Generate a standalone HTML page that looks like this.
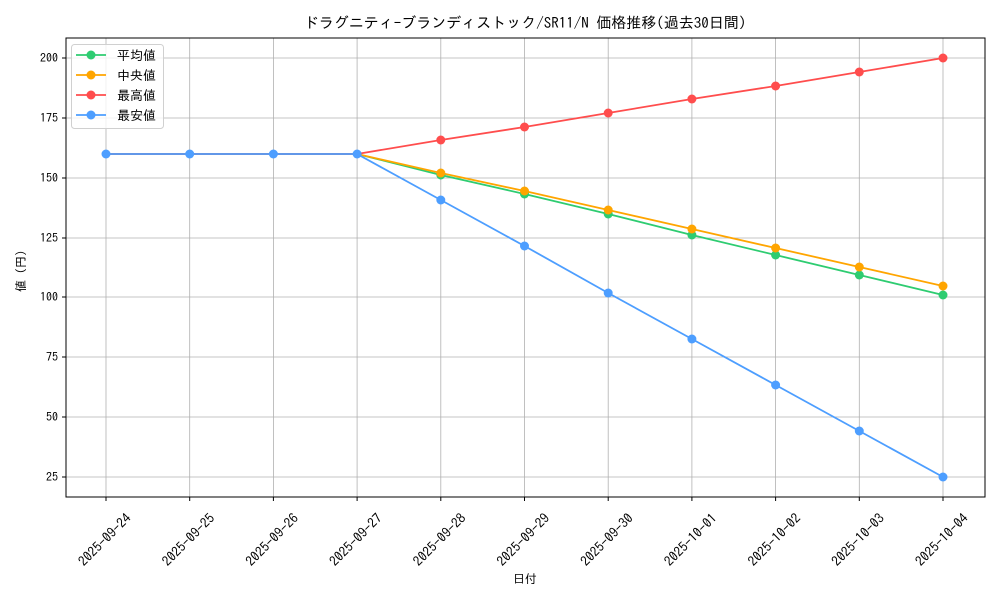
<!DOCTYPE html>
<html><head><meta charset="utf-8"><style>
body{margin:0;background:#fff}
text{font-family:"IPAGothic","Liberation Sans","Noto Sans CJK JP",sans-serif;fill:#000}
</style></head><body>
<svg width="1000" height="600" xmlns="http://www.w3.org/2000/svg">
<rect width="1000" height="600" fill="#fff"/>
<g stroke="#b0b0b0" stroke-width="0.8">
<line x1="106" y1="38" x2="106" y2="497"/><line x1="189.7" y1="38" x2="189.7" y2="497"/><line x1="273.4" y1="38" x2="273.4" y2="497"/><line x1="357.1" y1="38" x2="357.1" y2="497"/><line x1="440.8" y1="38" x2="440.8" y2="497"/><line x1="524.5" y1="38" x2="524.5" y2="497"/><line x1="608.2" y1="38" x2="608.2" y2="497"/><line x1="691.9" y1="38" x2="691.9" y2="497"/><line x1="775.6" y1="38" x2="775.6" y2="497"/><line x1="859.3" y1="38" x2="859.3" y2="497"/><line x1="943" y1="38" x2="943" y2="497"/>
<line x1="66" y1="58" x2="985" y2="58"/><line x1="66" y1="118" x2="985" y2="118"/><line x1="66" y1="178" x2="985" y2="178"/><line x1="66" y1="238" x2="985" y2="238"/><line x1="66" y1="297" x2="985" y2="297"/><line x1="66" y1="357" x2="985" y2="357"/><line x1="66" y1="417" x2="985" y2="417"/><line x1="66" y1="477" x2="985" y2="477"/>
</g>
<rect x="66" y="38" width="919" height="459" fill="none" stroke="#000" stroke-width="1"/>
<g stroke="#000"><line x1="62" y1="58" x2="66" y2="58"/><line x1="62" y1="118" x2="66" y2="118"/><line x1="62" y1="178" x2="66" y2="178"/><line x1="62" y1="238" x2="66" y2="238"/><line x1="62" y1="297" x2="66" y2="297"/><line x1="62" y1="357" x2="66" y2="357"/><line x1="62" y1="417" x2="66" y2="417"/><line x1="62" y1="477" x2="66" y2="477"/>
<line x1="106" y1="497" x2="106" y2="501"/><line x1="189.7" y1="497" x2="189.7" y2="501"/><line x1="273.4" y1="497" x2="273.4" y2="501"/><line x1="357.1" y1="497" x2="357.1" y2="501"/><line x1="440.8" y1="497" x2="440.8" y2="501"/><line x1="524.5" y1="497" x2="524.5" y2="501"/><line x1="608.2" y1="497" x2="608.2" y2="501"/><line x1="691.9" y1="497" x2="691.9" y2="501"/><line x1="775.6" y1="497" x2="775.6" y2="501"/><line x1="859.3" y1="497" x2="859.3" y2="501"/><line x1="943" y1="497" x2="943" y2="501"/></g>
<g font-size="12" text-anchor="end">
<text x="58" y="62">200</text><text x="58" y="122">175</text><text x="58" y="182">150</text><text x="58" y="242">125</text><text x="58" y="301">100</text><text x="58" y="361">75</text><text x="58" y="421">50</text><text x="58" y="481">25</text>
</g>
<g font-size="13.5" text-anchor="middle">
<text transform="translate(108,543) rotate(-45)">2025-09-24</text>
<text transform="translate(191.7,543) rotate(-45)">2025-09-25</text>
<text transform="translate(275.4,543) rotate(-45)">2025-09-26</text>
<text transform="translate(359.1,543) rotate(-45)">2025-09-27</text>
<text transform="translate(442.8,543) rotate(-45)">2025-09-28</text>
<text transform="translate(526.5,543) rotate(-45)">2025-09-29</text>
<text transform="translate(610.2,543) rotate(-45)">2025-09-30</text>
<text transform="translate(693.9,543) rotate(-45)">2025-10-01</text>
<text transform="translate(777.6,543) rotate(-45)">2025-10-02</text>
<text transform="translate(861.3,543) rotate(-45)">2025-10-03</text>
<text transform="translate(945,543) rotate(-45)">2025-10-04</text>
</g>
<text x="525" y="583" font-size="12" text-anchor="middle">日付</text>
<text transform="translate(25,268) rotate(-90)" font-size="12" text-anchor="middle">値（円）</text>
<text x="525" y="28" font-size="15" text-anchor="middle">ドラグニティ-ブランディストック/SR11/N 価格推移(過去30日間)</text>
<g fill="none" stroke-width="1.8">
<polyline stroke="#2ecc71" points="106,154 189.7,154 273.4,154 357.1,154 440.8,175 524.5,194 608.2,214 691.9,235 775.6,255 859.3,275 943,295"/>
<polyline stroke="#ffa500" points="106,154 189.7,154 273.4,154 357.1,154 440.8,173 524.5,191 608.2,210 691.9,229 775.6,248 859.3,267 943,286"/>
<polyline stroke="#ff4d4d" points="106,154 189.7,154 273.4,154 357.1,154 440.8,140 524.5,127 608.2,113 691.9,99 775.6,86 859.3,72 943,58"/>
<polyline stroke="#4d9eff" points="106,154 189.7,154 273.4,154 357.1,154 440.8,200 524.5,246 608.2,293 691.9,339 775.6,385 859.3,431 943,477"/>
</g>
<g fill="#2ecc71"><circle cx="440.8" cy="175" r="4.5"/><circle cx="524.5" cy="194" r="4.5"/><circle cx="608.2" cy="214" r="4.5"/><circle cx="691.9" cy="235" r="4.5"/><circle cx="775.6" cy="255" r="4.5"/><circle cx="859.3" cy="275" r="4.5"/><circle cx="943" cy="295" r="4.5"/></g>
<g fill="#ffa500"><circle cx="440.8" cy="173" r="4.5"/><circle cx="524.5" cy="191" r="4.5"/><circle cx="608.2" cy="210" r="4.5"/><circle cx="691.9" cy="229" r="4.5"/><circle cx="775.6" cy="248" r="4.5"/><circle cx="859.3" cy="267" r="4.5"/><circle cx="943" cy="286" r="4.5"/></g>
<g fill="#ff4d4d"><circle cx="440.8" cy="140" r="4.5"/><circle cx="524.5" cy="127" r="4.5"/><circle cx="608.2" cy="113" r="4.5"/><circle cx="691.9" cy="99" r="4.5"/><circle cx="775.6" cy="86" r="4.5"/><circle cx="859.3" cy="72" r="4.5"/><circle cx="943" cy="58" r="4.5"/></g>
<g fill="#4d9eff"><circle cx="106" cy="154" r="4.5"/><circle cx="189.7" cy="154" r="4.5"/><circle cx="273.4" cy="154" r="4.5"/><circle cx="357.1" cy="154" r="4.5"/><circle cx="440.8" cy="200" r="4.5"/><circle cx="524.5" cy="246" r="4.5"/><circle cx="608.2" cy="293" r="4.5"/><circle cx="691.9" cy="339" r="4.5"/><circle cx="775.6" cy="385" r="4.5"/><circle cx="859.3" cy="431" r="4.5"/><circle cx="943" cy="477" r="4.5"/></g>
<rect x="71.5" y="44.5" width="92" height="84" rx="3" fill="#fff" fill-opacity="0.8" stroke="#d0d0d0"/>
<g stroke-width="1.8">
<line x1="76" y1="55" x2="106" y2="55" stroke="#2ecc71"/><circle cx="91" cy="55" r="4.5" fill="#2ecc71"/>
<line x1="76" y1="75" x2="106" y2="75" stroke="#ffa500"/><circle cx="91" cy="75" r="4.5" fill="#ffa500"/>
<line x1="76" y1="95" x2="106" y2="95" stroke="#ff4d4d"/><circle cx="91" cy="95" r="4.5" fill="#ff4d4d"/>
<line x1="76" y1="115" x2="106" y2="115" stroke="#4d9eff"/><circle cx="91" cy="115" r="4.5" fill="#4d9eff"/>
</g>
<g font-size="13"><text x="117" y="60">平均値</text><text x="117" y="80">中央値</text><text x="117" y="100">最高値</text><text x="117" y="120">最安値</text></g>
</svg>
</body></html>
